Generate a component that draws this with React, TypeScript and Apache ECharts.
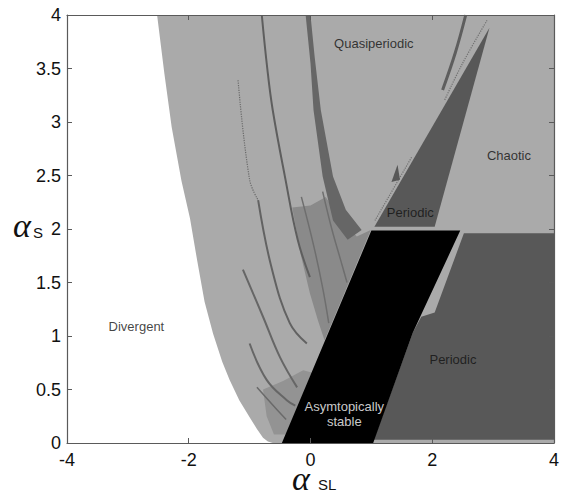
import React, { useEffect, useRef } from "react";
import * as echarts from "echarts";

const xTicks = [-4, -2, 0, 2, 4];
const yTicks = [0, 0.5, 1, 1.5, 2, 2.5, 3, 3.5, 4];

// Regions (alpha_SL, alpha_S) vertices
const quasiRegion = [
  [-0.62, 0], [4, 0], [4, 4], [-2.52, 4], [-2.4, 3.45], [-2.28, 2.95], [-2.12, 2.45],
  [-1.98, 2.1], [-1.86, 1.7], [-1.74, 1.32], [-1.6, 1.02], [-1.45, 0.76], [-1.33, 0.59],
  [-1.17, 0.4], [-1.0, 0.24], [-0.88, 0.13], [-0.78, 0.05], [-0.7, 0.015],
];
const hatchFan = [
  [-0.3, 2.2], [-0.16, 1.76], [-0.01, 1.4], [0.12, 1.15], [0.23, 0.96], [0.99, 1.99],
  [0.76, 1.93], [0.48, 2.1], [0.25, 2.3], [0.0, 2.22],
];
const hatchLow = [
  [-0.78, 0.5], [-0.45, 0.58], [-0.12, 0.68], [0.02, 0.66], [-0.4, 0.08], [-0.6, 0.08], [-0.72, 0.25],
];
const bandL2 = [
  [-0.08, 4.0], [0.0, 3.55], [0.05, 3.11], [0.2, 2.49], [0.37, 2.08], [0.61, 1.9],
  [0.84, 1.99], [0.58, 2.18], [0.37, 2.49], [0.17, 3.11], [0.07, 3.6], [0.0, 4.0],
];
const upperPeriodic = [[1.05, 2.02], [2.04, 2.02], [2.94, 3.88]];
const smallWedge = [[1.33, 2.44], [1.47, 2.46], [1.43, 2.6]];
const lowerPeriodic = [
  [1.04, 0.03], [4, 0.03], [4, 1.96], [2.52, 1.96], [2.04, 1.22], [1.82, 1.18], [1.68, 1.03],
];
const stableRegion = [[-0.47, 0], [1.03, 0], [1.68, 1.03], [2.46, 1.985], [1.0, 1.985]];

// Dark streaks (tongues)
const streakL1 = [[-0.8, 4.0], [-0.71, 3.5], [-0.62, 3.11], [-0.42, 2.49], [-0.21, 1.9], [-0.01, 1.55]];
const streakA3 = [[-0.86, 2.27], [-0.64, 1.64], [-0.34, 1.12], [-0.06, 0.93]];
const streakA4 = [[-1.11, 1.62], [-0.78, 1.18], [-0.5, 0.8], [-0.22, 0.52]];
const streakA5 = [[-1.0, 0.93], [-0.72, 0.59], [-0.39, 0.4], [-0.25, 0.35]];
const streakA6 = [[-0.88, 0.52], [-0.55, 0.31], [-0.4, 0.22]];
const streakH1 = [[-0.15, 2.3], [0.05, 1.85], [0.2, 1.45], [0.3, 1.12]];
const streakH2 = [[0.2, 2.35], [0.35, 2.0], [0.5, 1.7], [0.6, 1.5]];
const streakS1 = [[2.55, 4.0], [2.38, 3.65], [2.17, 3.3]];
const dottedL0 = [[-1.19, 3.39], [-1.0, 2.46], [-0.86, 2.27]];
const dottedD1 = [[1.66, 2.67], [1.06, 2.08]];
const dottedD2 = [[2.9, 3.95], [2.5, 3.55], [2.2, 3.2]];

const labelNames = ["Quasiperiodic", "Chaotic", "Periodic", "Periodic", "Divergent"];
const labelPositions = [[1.04, 3.73], [3.26, 2.69], [1.64, 2.15], [2.34, 0.78], [-2.86, 1.09]];
const stableLabel = "Asymtopically\nstable";
const stablePosition = [0.555, 0.27];

const LIGHT = "#aaaaaa";
const DARK = "#585858";
const AXIS = "#5a5a5a";

function polySeries(points: number[][], fill: string, z: number) {
  return {
    type: "custom",
    coordinateSystem: "cartesian2d",
    xAxisIndex: 0,
    yAxisIndex: 0,
    z,
    silent: true,
    clip: true,
    data: [[points[0][0], points[0][1]]],
    renderItem: (_p: any, api: any) => ({
      type: "polygon",
      shape: { points: points.map((pt) => api.coord(pt)) },
      style: { fill, stroke: null },
    }),
  };
}

function lineSeries(points: number[][], color: string, width: number, type: string, z: number) {
  return {
    type: "line",
    z,
    data: points,
    smooth: 0.4,
    showSymbol: false,
    silent: true,
    lineStyle: { color, width, type },
  };
}

export default function App() {
  const ref = useRef<HTMLDivElement>(null);
  useEffect(() => {
    const chart = echarts.init(ref.current!, null, { renderer: "svg" });
    const tickLabel = { fontSize: 18, color: "#111", fontFamily: "Liberation Sans, Arial, sans-serif" };
    const axisCommon = {
      type: "value", z: 10,
      axisLine: { onZero: false, lineStyle: { color: AXIS, width: 1.2 } },
      axisTick: { inside: true, length: 5, lineStyle: { color: AXIS } },
      splitLine: { show: false },
    };
    const option: any = {
      animation: false,
      grid: { left: 67, right: 8, top: 15, bottom: 50 },
      xAxis: [
        { ...axisCommon, min: xTicks[0], max: xTicks[xTicks.length - 1], interval: 2, position: "bottom",
          axisLabel: { ...tickLabel, margin: 8 } },
        { ...axisCommon, min: xTicks[0], max: xTicks[xTicks.length - 1], interval: 2, position: "top",
          axisLabel: { show: false } },
      ],
      yAxis: [
        { ...axisCommon, min: yTicks[0], max: yTicks[yTicks.length - 1], interval: 0.5, position: "left",
          axisLabel: { ...tickLabel, margin: 6 } },
        { ...axisCommon, min: yTicks[0], max: yTicks[yTicks.length - 1], interval: 0.5, position: "right",
          axisLabel: { show: false } },
      ],
      series: [
        polySeries(quasiRegion, LIGHT, 1),
        polySeries(hatchFan, "#8a8a8a", 2),
        polySeries(hatchLow, "#939393", 2),
        polySeries(bandL2, "#666666", 3),
        lineSeries(dottedL0, "#6a6a6a", 1.2, "dotted", 3),
        lineSeries(streakL1, "#5e5e5e", 2, "solid", 3),
        lineSeries(streakA3, "#626262", 2, "solid", 3),
        lineSeries(streakA4, "#666666", 2, "solid", 3),
        lineSeries(streakA5, "#666666", 2, "solid", 3),
        lineSeries(streakA6, "#6a6a6a", 1.5, "solid", 3),
        lineSeries(streakH1, "#6e6e6e", 1.5, "solid", 3),
        lineSeries(streakH2, "#6e6e6e", 1.5, "solid", 3),
        lineSeries(streakS1, "#5e5e5e", 3, "solid", 3),
        lineSeries(dottedD1, "#707070", 1.2, "dotted", 3),
        lineSeries(dottedD2, "#707070", 1.2, "dotted", 3),
        polySeries(upperPeriodic, DARK, 4),
        polySeries(smallWedge, DARK, 4),
        polySeries(lowerPeriodic, DARK, 4),
        polySeries(stableRegion, "#000000", 5),
        {
          type: "scatter",
          z: 8,
          symbolSize: 1,
          itemStyle: { color: "transparent" },
          silent: true,
          data: labelNames.map((n, i) => ({ name: n, value: labelPositions[i] })),
          label: {
            show: true, position: "inside", formatter: "{b}", fontSize: 13, color: "#111",
            fontFamily: "Liberation Sans, Arial, sans-serif",
          },
        },
        {
          type: "scatter",
          z: 8,
          symbolSize: 1,
          itemStyle: { color: "transparent" },
          silent: true,
          data: [{ name: stableLabel, value: stablePosition }],
          label: {
            show: true, position: "inside", formatter: "{b}", fontSize: 13, color: "#ffffff",
            lineHeight: 15, align: "center",
            fontFamily: "Liberation Sans, Arial, sans-serif",
          },
        },
      ],
      graphic: [
        {
          type: "text", x: 292, y: 478, z: 20,
          style: { text: "α", fontSize: 34, fontStyle: "italic", fontFamily: "Liberation Serif, Times New Roman, serif", fill: "#111", verticalAlign: "middle", align: "left" },
        },
        {
          type: "text", x: 318, y: 484, z: 20,
          style: { text: "SL", fontSize: 15, fontFamily: "Liberation Sans, Arial, sans-serif", fill: "#111", verticalAlign: "middle", align: "left" },
        },
        {
          type: "text", x: 13, y: 225, z: 20,
          style: { text: "α", fontSize: 34, fontStyle: "italic", fontFamily: "Liberation Serif, Times New Roman, serif", fill: "#111", verticalAlign: "middle", align: "left" },
        },
        {
          type: "text", x: 33, y: 232, z: 20,
          style: { text: "S", fontSize: 15, fontFamily: "Liberation Sans, Arial, sans-serif", fill: "#111", verticalAlign: "middle", align: "left" },
        },
      ],
    };
    chart.setOption(option);
    return () => chart.dispose();
  }, []);
  return (
    <div
      ref={ref}
      style={{ position: "fixed", left: 0, top: 0, width: 562, height: 493, background: "#fff" }}
    />
  );
}
